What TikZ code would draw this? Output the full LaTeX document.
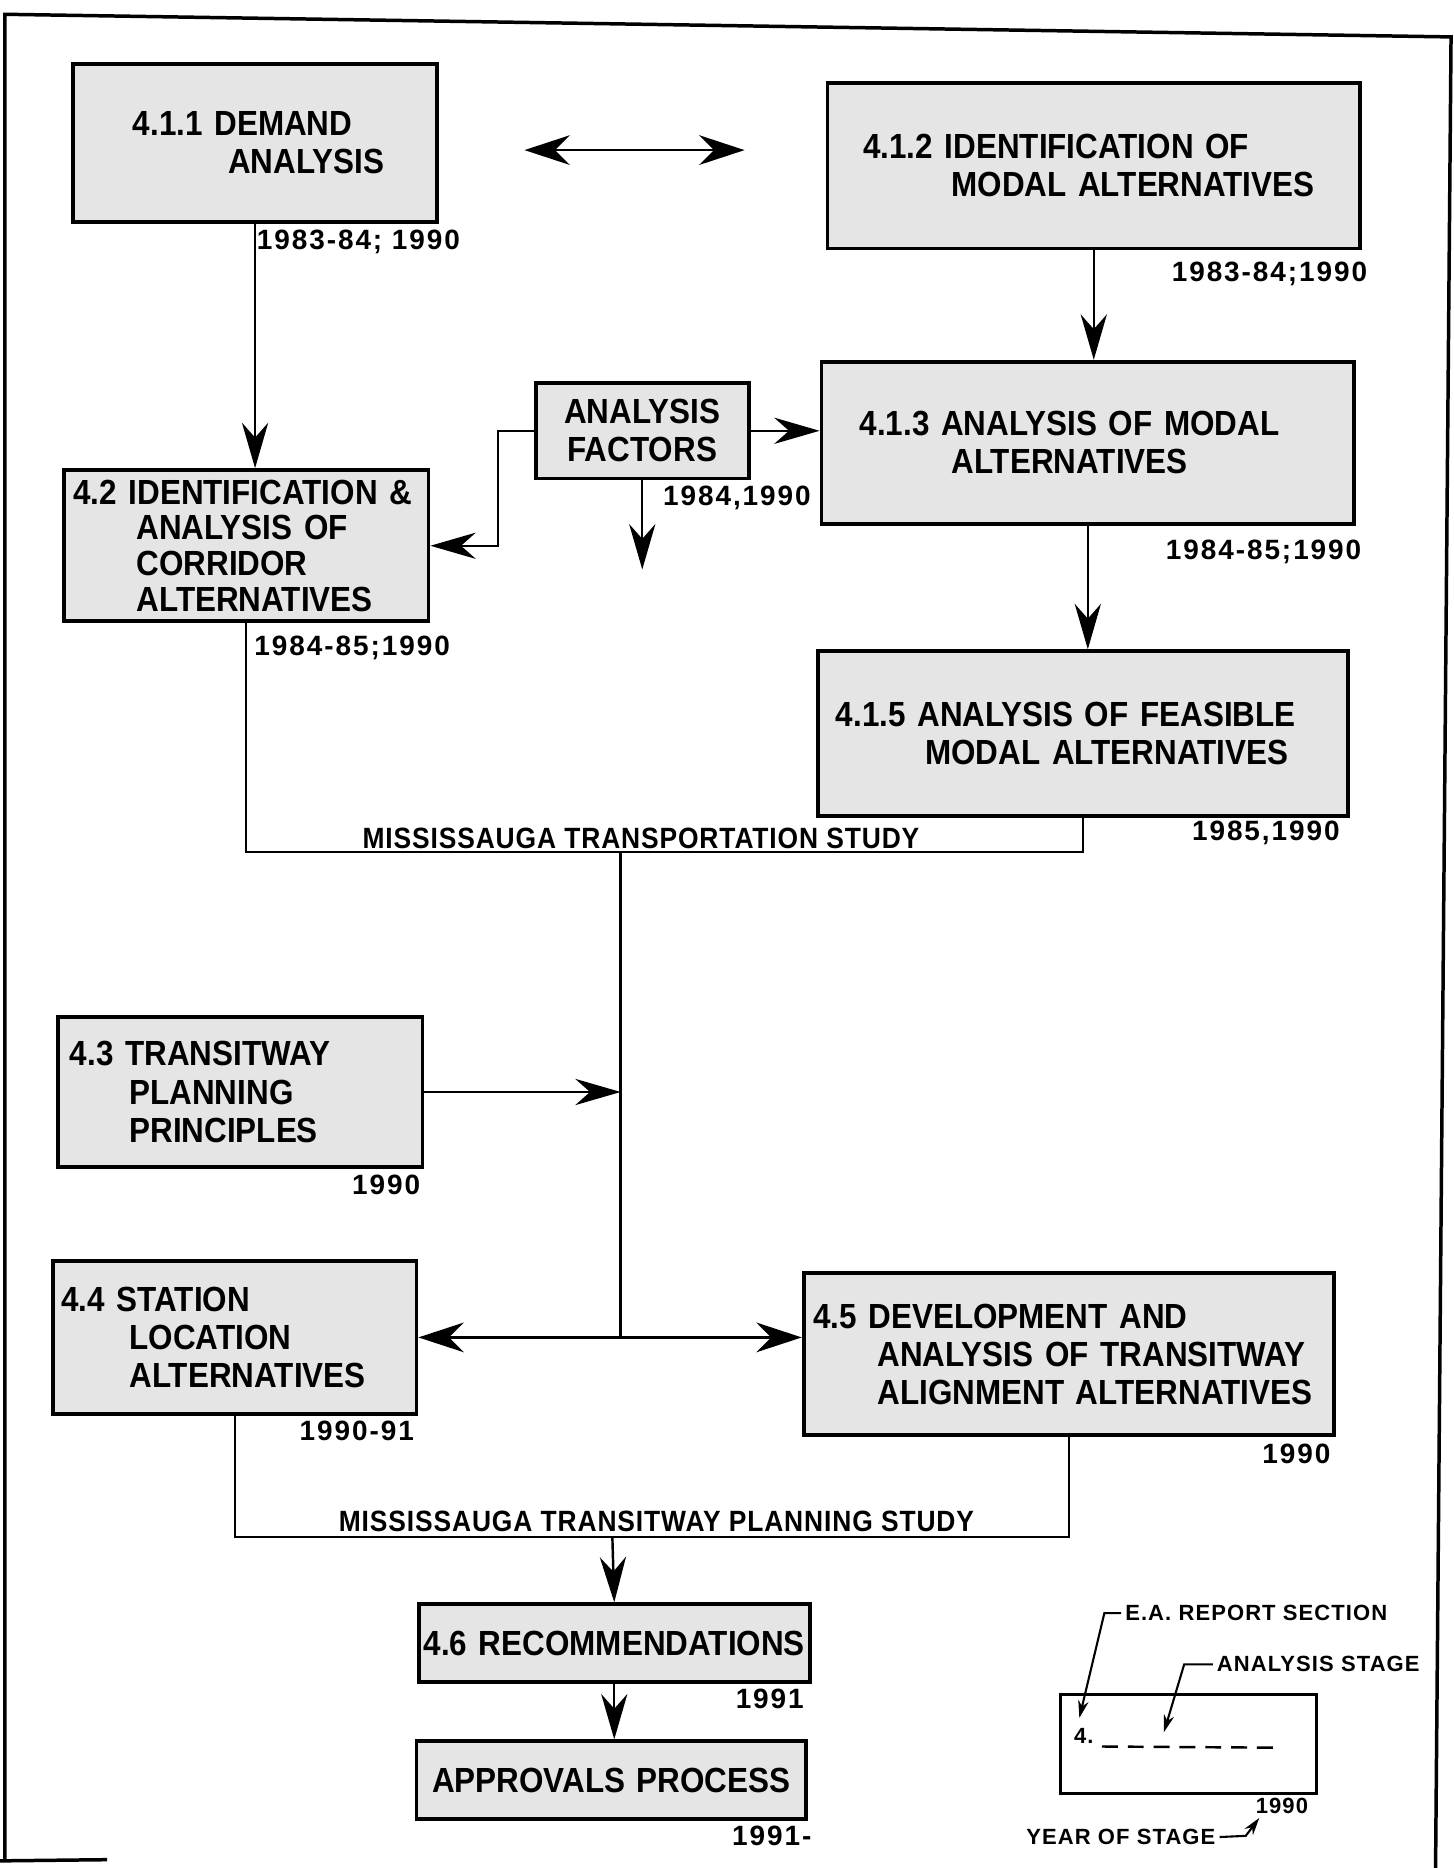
\documentclass[tikz,border=0pt]{standalone}
\usepackage{fontspec}
\setmainfont{Liberation Sans}
\newfontfamily\stagefont{Liberation Sans}[FakeStretch=0.9]
\newfontfamily\yearfont{Liberation Sans}[LetterSpace=7]
\newfontfamily\studyfont{Liberation Sans}[FakeStretch=0.9,LetterSpace=3]
\newfontfamily\keyfont{Liberation Sans}[LetterSpace=5]
\usetikzlibrary{arrows.meta}
\newlength\px
\setlength\px{0.012cm}
\tikzset{
  stagebox/.style={draw, line width=1.1pt, fill=gray!20, anchor=north west,
    inner xsep=0pt, inner ysep=2pt, align=left,
    font=\stagefont\bfseries\fontsize{10}{10.9}\selectfont},
  tightlines/.style={font=\stagefont\bfseries\fontsize{10}{10.2}\selectfont},
  yearlabel/.style={anchor=west, inner sep=0pt, font=\yearfont\bfseries\fontsize{8}{9}\selectfont},
  studylabel/.style={inner sep=0pt, font=\studyfont\bfseries\fontsize{8.4}{9}\selectfont},
  keytext/.style={inner sep=1pt, font=\keyfont\bfseries\fontsize{6.3}{7}\selectfont},
  link/.style={line width=0.7pt},
  flow/.style={link, -{Stealth[length=13pt,width=7.5pt]}},
  twoway/.style={link, {Stealth[length=13pt,width=8.5pt]}-{Stealth[length=13pt,width=8.5pt]}},
  keyarrow/.style={line width=0.6pt, -{Stealth[length=5pt,width=3pt]}},
  frame/.style={line width=1pt}
}
\begin{document}
\begin{tikzpicture}[x=0.012cm, y=-0.012cm]
\useasboundingbox (0,0) rectangle (1220,1568);
\draw[frame] (4,1562) -- (4,12) -- (1218,31) -- (1205,1568);
\draw[frame] (0,1562) -- (90,1561);

\node[stagebox, text width=305\px, minimum height=133\px] (dem) at (60,52)
  {\hspace*{50\px}4.1.1 DEMAND\\\hspace*{130\px}ANALYSIS};
\node[stagebox, text width=447\px, minimum height=139\px] (mod) at (693,68)
  {\hspace*{30\px}4.1.2 IDENTIFICATION OF\\\hspace*{104\px}MODAL ALTERNATIVES};
\node[stagebox, text width=447\px, minimum height=136\px] (ana) at (688,302)
  {\hspace*{32\px}4.1.3 ANALYSIS OF MODAL\\\hspace*{109\px}ALTERNATIVES};
\node[stagebox, align=center, text width=179\px, minimum height=80\px] (fac) at (448,320)
  {ANALYSIS\\FACTORS};
\node[stagebox, tightlines, text width=306\px, minimum height=127\px] (cor) at (52,393)
  {\hspace*{8\px}4.2 IDENTIFICATION \&\\\hspace*{61\px}ANALYSIS OF\\\hspace*{61\px}CORRIDOR\\\hspace*{61\px}ALTERNATIVES};
\node[stagebox, text width=445\px, minimum height=138\px] (feas) at (685,545)
  {\hspace*{15\px}4.1.5 ANALYSIS OF FEASIBLE\\\hspace*{90\px}MODAL ALTERNATIVES};
\node[stagebox, text width=306\px, minimum height=126\px] (prin) at (47,852)
  {\hspace*{10\px}4.3 TRANSITWAY\\\hspace*{60\px}PLANNING\\\hspace*{60\px}PRINCIPLES};
\node[stagebox, text width=305\px, minimum height=128\px] (stat) at (43,1057)
  {\hspace*{7\px}4.4 STATION\\\hspace*{64\px}LOCATION\\\hspace*{64\px}ALTERNATIVES};
\node[stagebox, text width=445\px, minimum height=136\px] (dev) at (673,1067)
  {\hspace*{8\px}4.5 DEVELOPMENT AND\\\hspace*{62\px}ANALYSIS OF TRANSITWAY\\\hspace*{62\px}ALIGNMENT ALTERNATIVES};
\node[stagebox, align=center, text width=328\px, minimum height=65\px] (rec) at (350,1345)
  {4.6 RECOMMENDATIONS};
\node[stagebox, align=center, text width=327\px, minimum height=65\px] (appr) at (348,1460)
  {APPROVALS PROCESS};

\node[yearlabel] (ydem) at (215,203) {1983-84; 1990};
\node[yearlabel] (ymod) at (983,230) {1983-84;1990};
\node[yearlabel] (yana) at (978,463) {1984-85;1990};
\node[yearlabel] (yfac) at (556,418) {1984,1990};
\node[yearlabel] (ycor) at (213,544) {1984-85;1990};
\node[yearlabel] (yfeas) at (1000,699) {1985,1990};
\node[yearlabel] (yprin) at (295,995) {1990};
\node[yearlabel] (ystat) at (251,1201) {1990-91};
\node[yearlabel] (ydev) at (1059,1220) {1990};
\node[yearlabel] (yrec) at (617,1426) {1991};
\node[yearlabel] (yappr) at (614,1541) {1991-};

\node[studylabel] (mts) at (538,704) {MISSISSAUGA TRANSPORTATION STUDY};
\node[studylabel] (mtps) at (551,1277) {MISSISSAUGA TRANSITWAY PLANNING STUDY};
\coordinate (mtsjoin) at (521,715);
\coordinate (mtpsjoin) at (514,1290);
\coordinate (facend) at (fac.south |- 0,478);

\draw[flow] (dem.south) -- (dem.south |- cor.north);
\draw[twoway, shorten <=72\px, shorten >=68\px] (dem.east |- 0,126) -- (mod.west |- 0,126);
\draw[flow] (mod.south) -- (mod.south |- ana.north);
\draw[flow] (fac.east) -- (fac.east -| ana.west);
\draw[flow] (fac.west) -- ++(-30,0) |- (cor.east);
\draw[flow] (fac.south) -- (facend);
\draw[flow] (ana.south) -- (ana.south |- feas.north);
\draw[link] (cor.south) |- (mtsjoin) -| (feas.south);
\draw[link] (mtsjoin) -- (mtsjoin |- stat.east);
\draw[flow] (prin.east) -- (prin.east -| mtsjoin);
\draw[twoway] (stat.east) -- (stat.east -| dev.west);
\draw[link] (stat.south) |- (mtpsjoin) -| (dev.south);
\draw[flow] (mtpsjoin) -- (rec.north);
\draw[flow] (rec.south) -- (rec.south |- appr.north);

\node[draw, line width=0.8pt, anchor=north west, minimum width=215\px, minimum height=83\px] (key) at (889,1421) {};
\node[keytext, anchor=west] (keynum) at (898,1457) {4.};
\coordinate (dashstart) at (925,1466);
\coordinate (dashend) at (1072,1467);
\draw[line width=0.7pt, dash pattern=on 0.16cm off 0.1cm] (dashstart) -- (dashend);
\node[keytext, anchor=west] (ea) at (941,1354) {E.A. REPORT SECTION};
\coordinate (eatip) at (906,1442);
\draw[keyarrow] (ea.west) -- ++(-14,0) -- (eatip);
\node[keytext, anchor=west] (stg) at (1018,1397) {ANALYSIS STAGE};
\coordinate (stgtip) at (977,1454);
\draw[keyarrow] (stg.west) -- ++(-24,0) -- (stgtip);
\node[keytext, anchor=west] (yrs) at (858,1542) {YEAR OF STAGE};
\coordinate (yrstip) at (1057,1526);
\draw[keyarrow] (yrs.east) -- ++(22,-1) -- (yrstip);
\node[keytext] (keyyr) at (1076,1516) {1990};
\end{tikzpicture}
\end{document}
